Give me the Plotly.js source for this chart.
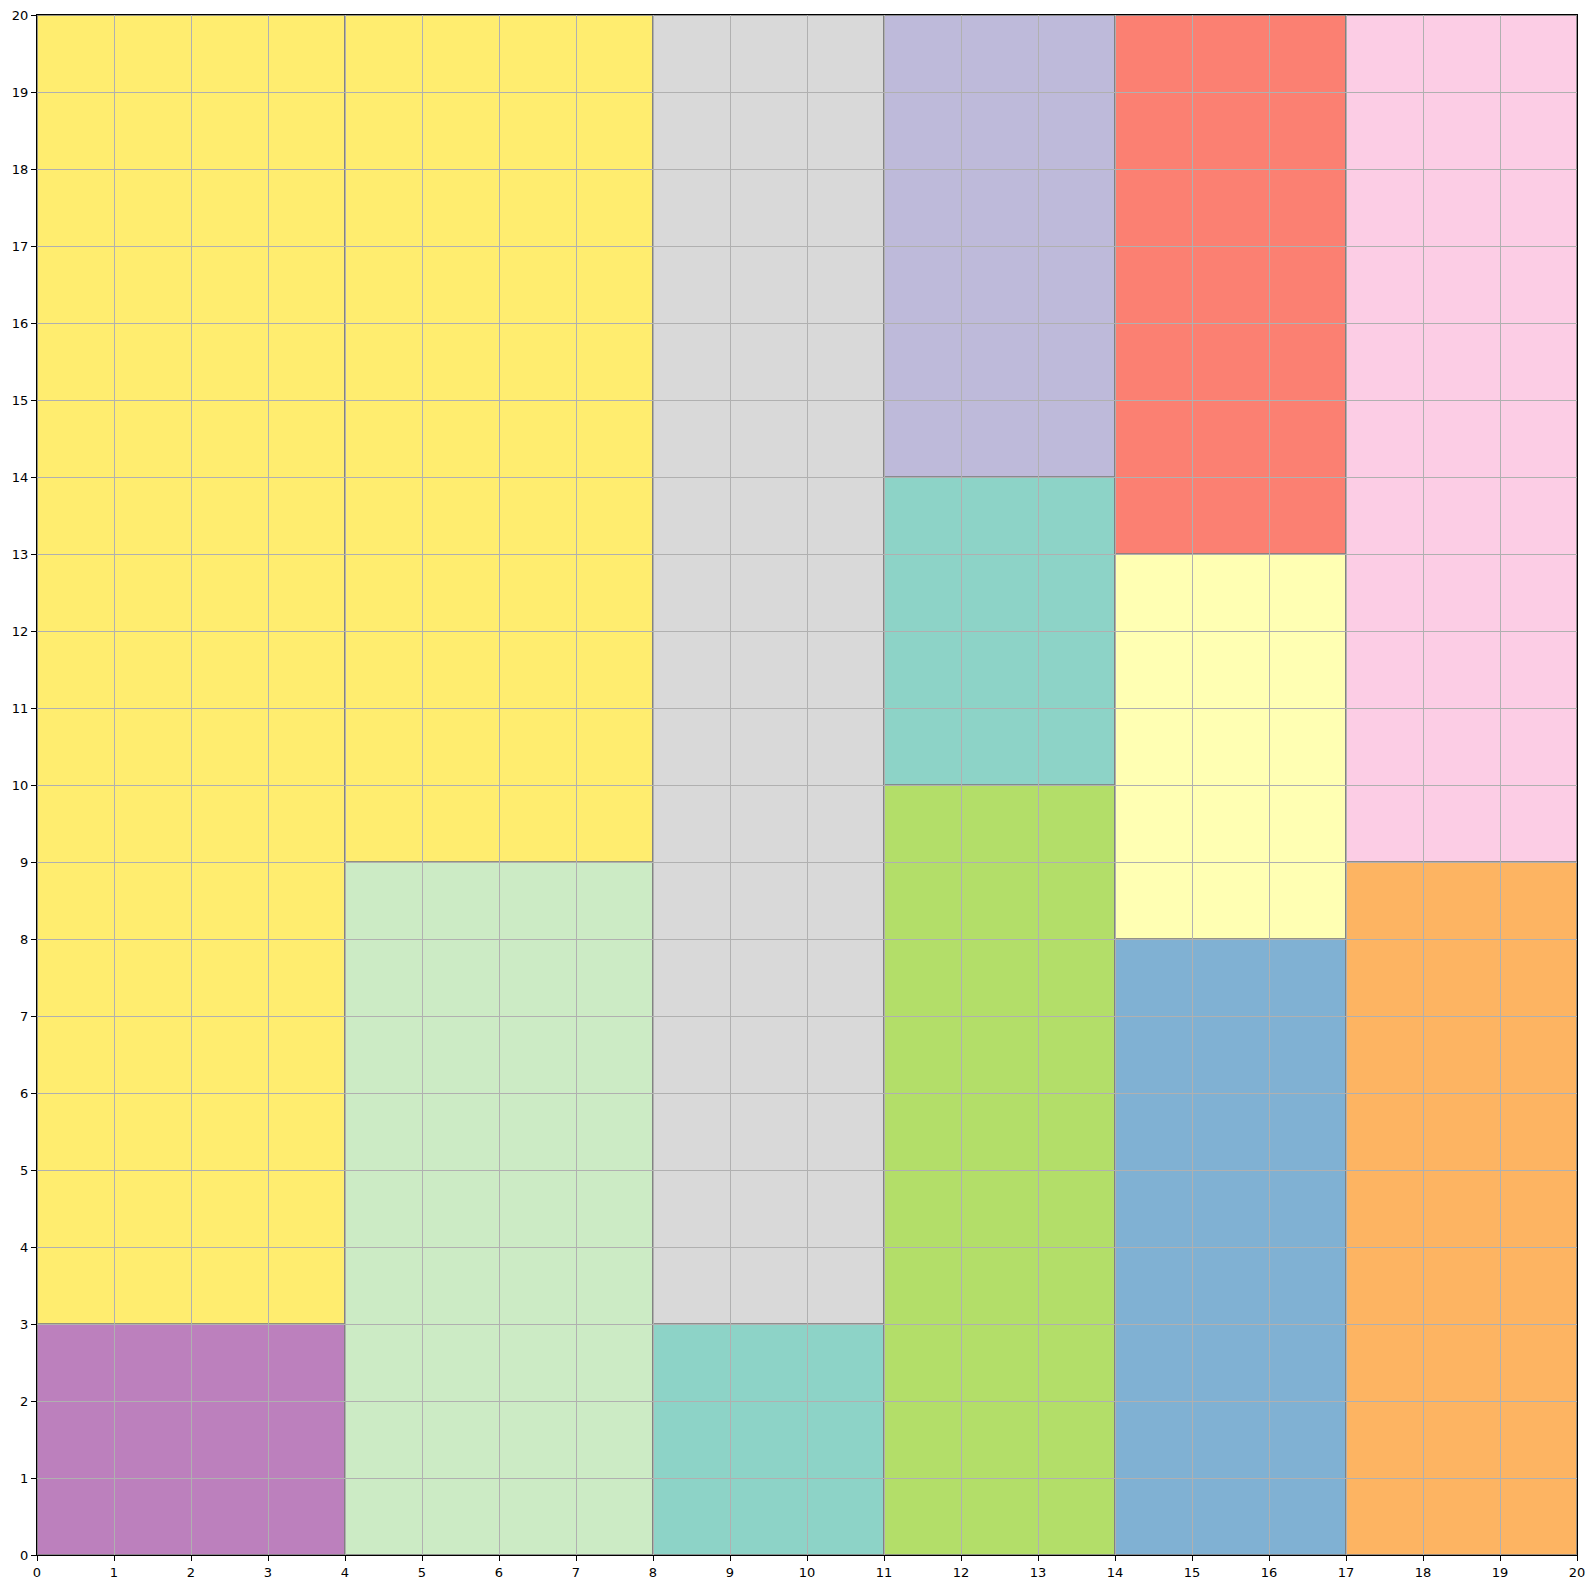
<!DOCTYPE html>
<html>
<head>
<meta charset="utf-8">
<script src="https://cdn.plot.ly/plotly-3.0.1.min.js"></script>
<style>html,body{margin:0;padding:0;background:#fff;}</style>
</head>
<body>
<div id="chart" style="width:1596px;height:1589px;"></div>
<script>
// Rectangle extents (data units)
const rectX0 = [0, 0, 4, 4, 8, 8, 11, 11, 11, 14, 14, 14, 17, 17];
const rectX1 = [4, 4, 8, 8, 11, 11, 14, 14, 14, 17, 17, 17, 20, 20];
const rectY0 = [0, 3, 0, 9, 0, 3, 0, 10, 14, 0, 8, 13, 0, 9];
const rectY1 = [3, 20, 9, 20, 3, 20, 10, 14, 20, 8, 13, 20, 9, 20];
const rectColors = ['#bc80bd', '#ffed6f', '#ccebc5', '#ffed6f', '#8dd3c7', '#d9d9d9', '#b3de69',
                    '#8dd3c7', '#bebada', '#80b1d3', '#ffffb3', '#fb8072', '#fdb462', '#fccde5'];
const tickVals = Array.from({length: 21}, (_, i) => i);

const shapes = rectX0.map((x0, i) => ({
  type: 'rect', xref: 'x', yref: 'y', layer: 'below',
  x0: x0, x1: rectX1[i], y0: rectY0[i], y1: rectY1[i],
  fillcolor: rectColors[i],
  line: {color: 'rgba(128,128,128,0.85)', width: 2}
}));

const axisCommon = {
  range: [0, 20], tickmode: 'array', tickvals: tickVals, ticktext: tickVals.map(String),
  showgrid: true, gridcolor: '#b0b0b0', gridwidth: 1, zeroline: false,
  showline: true, linecolor: '#000', linewidth: 1, mirror: true,
  ticks: 'outside', ticklen: 5, tickwidth: 1, tickcolor: '#000',
  tickfont: {family: 'DejaVu Sans', size: 13, color: '#000'}, layer: 'above traces'
};

const data = [{x: [0, 20], y: [0, 20], mode: 'markers', marker: {opacity: 0}, hoverinfo: 'skip', showlegend: false}];

const layout = {
  width: 1596, height: 1589,
  margin: {l: 37, r: 19, t: 15, b: 34},
  paper_bgcolor: '#fff', plot_bgcolor: '#fff',
  xaxis: Object.assign({}, axisCommon),
  yaxis: Object.assign({}, axisCommon),
  shapes: shapes, showlegend: false
};

Plotly.newPlot('chart', data, layout, {displayModeBar: false, staticPlot: true});
</script>
</body>
</html>
